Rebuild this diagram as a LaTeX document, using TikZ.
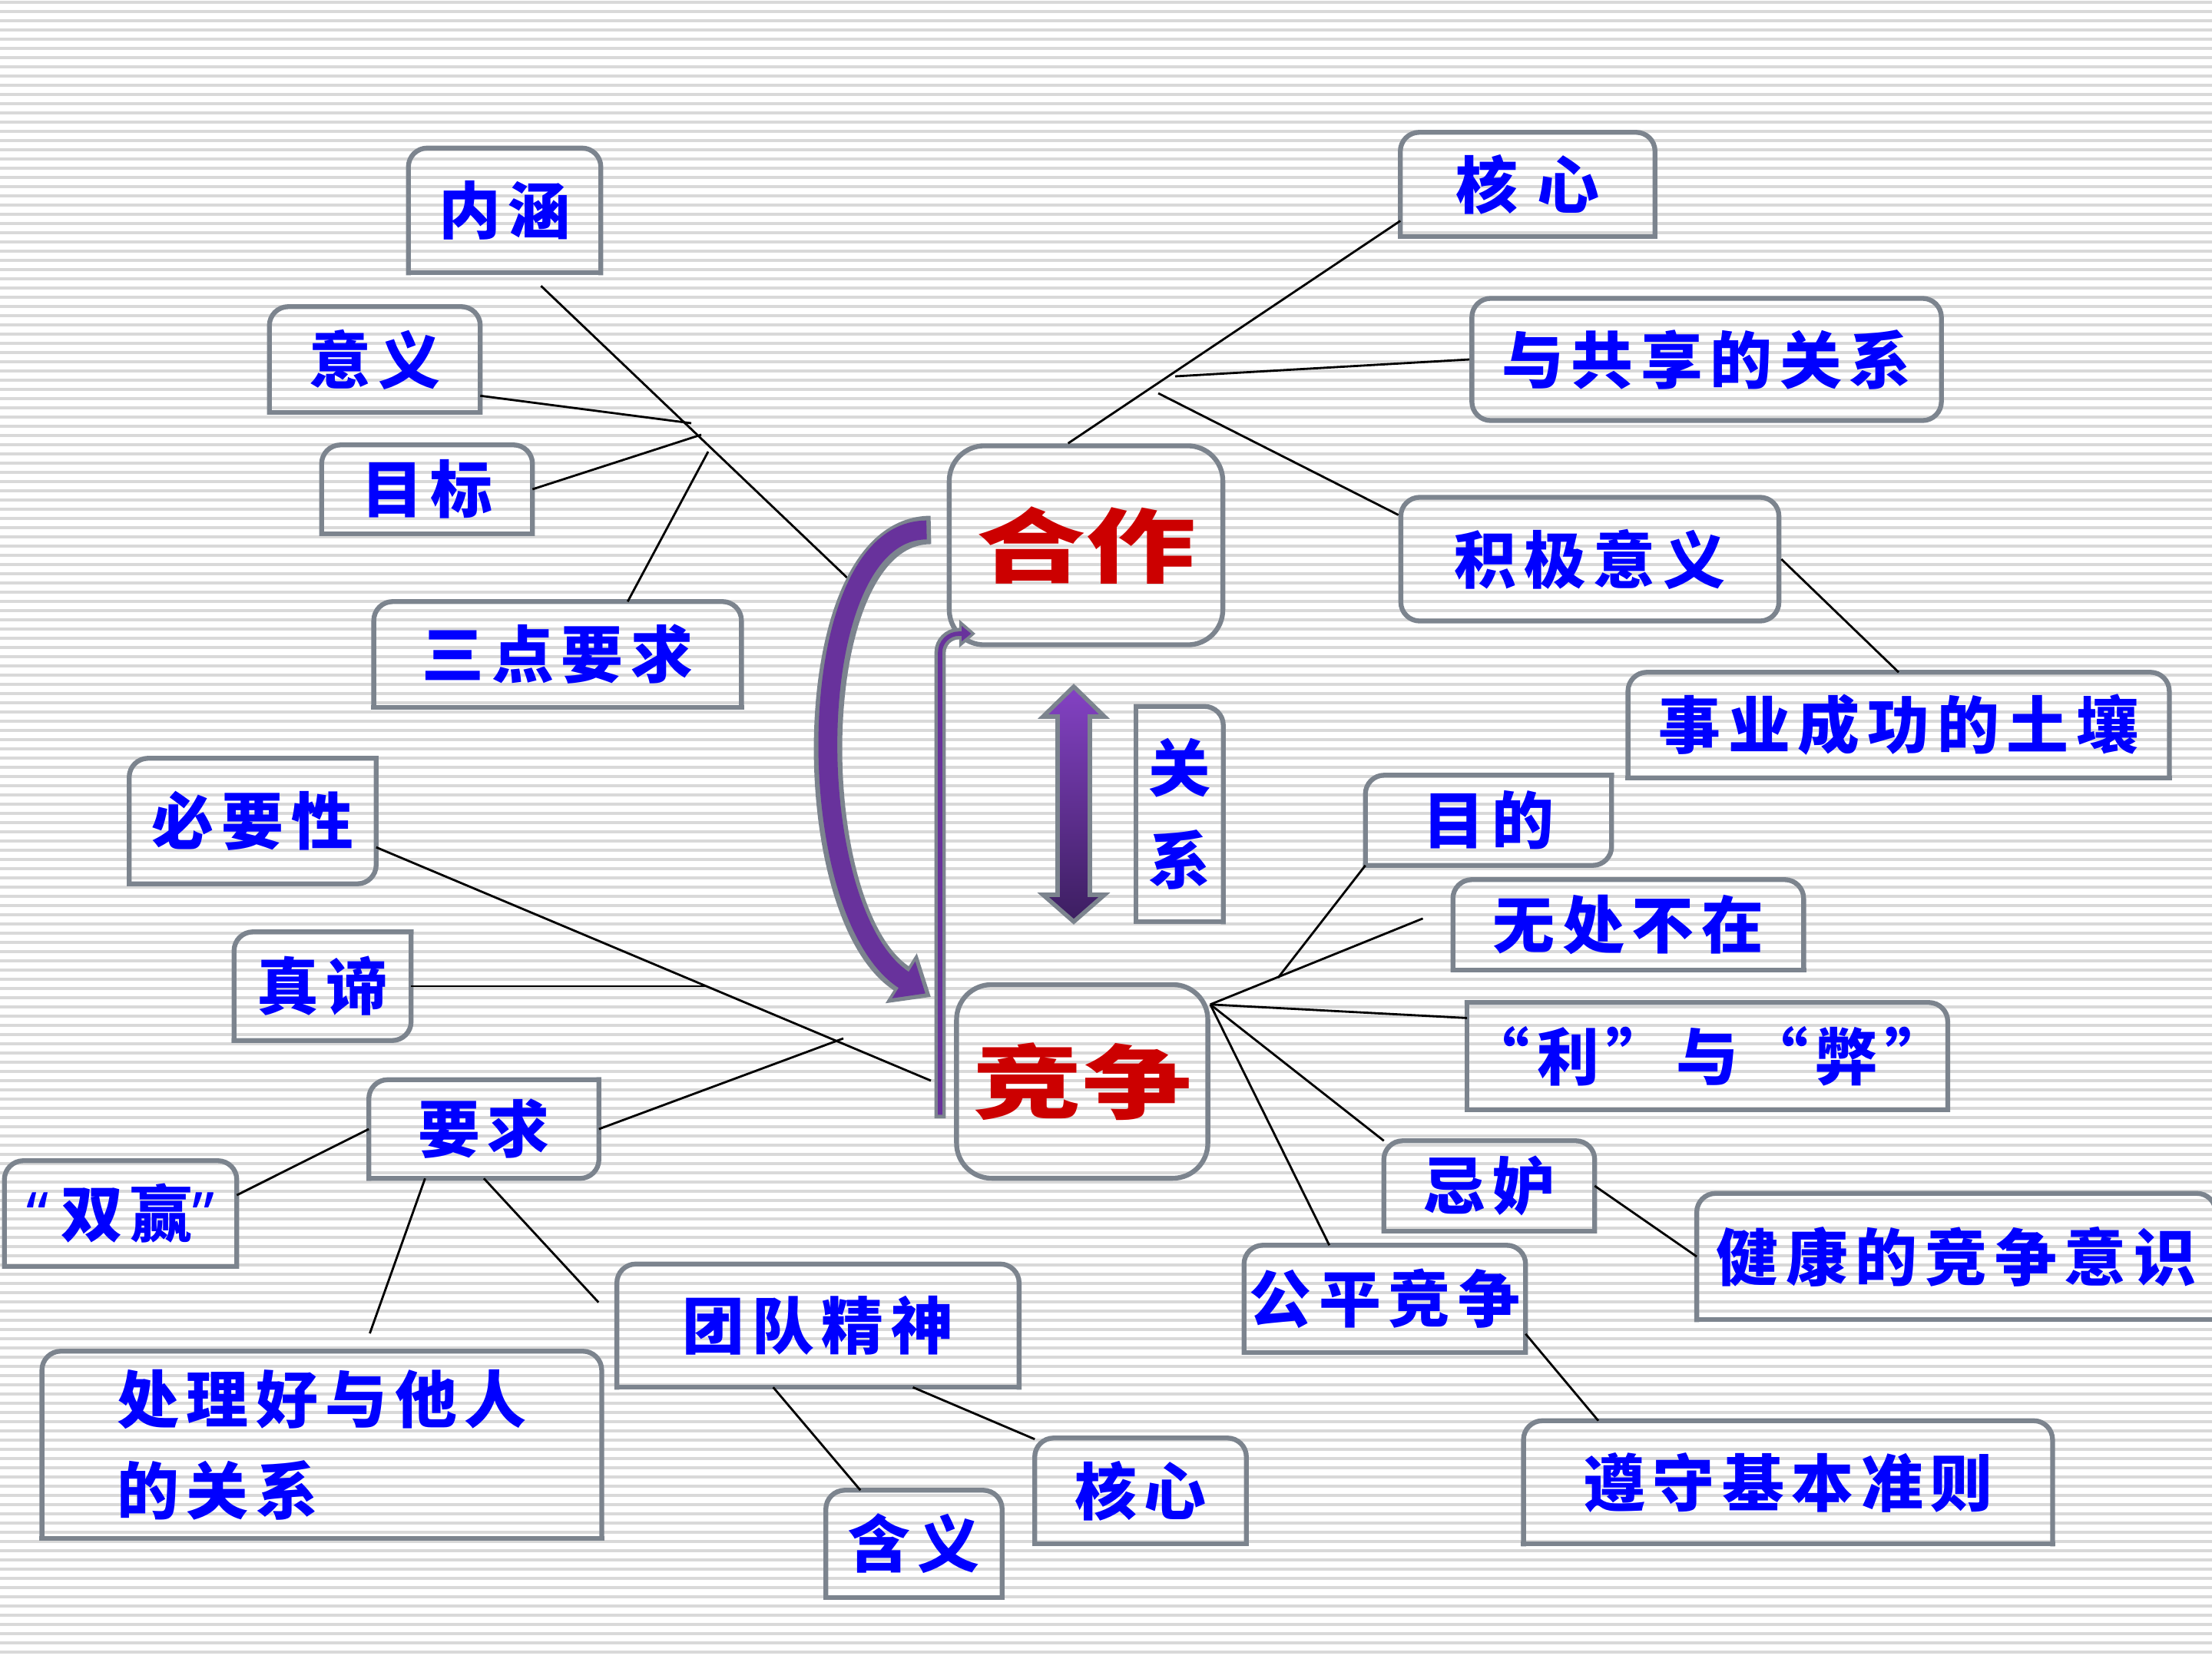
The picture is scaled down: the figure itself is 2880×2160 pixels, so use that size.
\documentclass[tikz,border=0pt]{standalone}
\usepackage{fontspec}
\newfontfamily\cjk[LetterSpace=12]{Noto Sans CJK SC}
\newfontfamily\cjkwide[FakeStretch=1.35]{Noto Sans CJK SC}
\newfontfamily\quotefont{Noto Sans}
\usetikzlibrary{arrows.meta}

\definecolor{rim}{RGB}{124,132,142}
\definecolor{stripe}{RGB}{217,217,217}
\definecolor{inkred}{RGB}{204,0,0}
\definecolor{plum}{RGB}{104,50,156}
\definecolor{plumlight}{RGB}{132,66,196}
\definecolor{plumdark}{RGB}{60,30,96}

\begin{document}
\begin{tikzpicture}[
    x=0.01cm, y=-0.01cm,
    stripe/.style={draw=stripe, line width=1.15pt},
    rimline/.style={draw=rim, line width=1.8pt, line cap=rect},
    link/.style={draw=black, line width=0.8pt},
    wh/.style 2 args={minimum width=#1cm, minimum height=#2cm},
    box/.style={inner sep=0pt, text=blue, font=\cjk\bfseries\fontsize{23}{34}\selectfont},
    topround/.style={box, append after command={\pgfextra{
        \draw[rimline, rounded corners=7pt] (\tikzlastnode.south west) |- (\tikzlastnode.north) -| (\tikzlastnode.south east);
        \draw[rimline] (\tikzlastnode.south west) -- (\tikzlastnode.south east);}}},
    oneround/.style={box, append after command={\pgfextra{
        \draw[rimline, rounded corners=7pt] (\tikzlastnode.north west) -| (\tikzlastnode.south east);
        \draw[rimline] (\tikzlastnode.south east) -- (\tikzlastnode.south west) -- (\tikzlastnode.north west);}}},
    diaground/.style={box, append after command={\pgfextra{
        \draw[rimline, rounded corners=7pt] (\tikzlastnode.south west) |- (\tikzlastnode.north east);
        \draw[rimline, rounded corners=7pt] (\tikzlastnode.north east) |- (\tikzlastnode.south west);}}},
    allround/.style={box, draw=rim, line width=1.8pt, rounded corners=7pt},
    core/.style={draw=rim, line width=1.8pt, rounded corners=13pt, inner sep=0pt, text=inkred,
        font=\cjkwide\bfseries\fontsize{30}{36}\selectfont},
    bigrim/.style={draw=rim, line width=10.5pt, -{Triangle[width=21pt, length=13pt]}},
    bigplum/.style={draw=plum, line width=7pt, shorten <=1.6pt, shorten >=2.4pt, -{Triangle[width=15.5pt, length=9.5pt]}},
    thinrim/.style={draw=rim, line width=4.2pt, rounded corners=7pt, -{Triangle[width=10pt, length=6pt]}},
    thinplum/.style={draw=plum, line width=1.6pt, rounded corners=7pt, shorten <=1.3pt, shorten >=1.6pt, -{Triangle[width=5.5pt, length=3.5pt]}}
  ]

  % background
  \fill[white] (0,0) rectangle (2880,2160);
  \useasboundingbox (0,0) rectangle (2880,2160);
  \foreach \k in {0,...,179}
    \draw[stripe] (0,3+12*\k) -- (2880,3+12*\k);

  % centre
  \node[core, wh={3.56}{2.59}] (hezuo) at (1414,710) {合作};
  \node[core, wh={3.27}{2.52}] (jingzheng) at (1409,1408) {竞争};
  \node[oneround, wh={1.12}{2.79}, align=center] (guanxi) at (1536,1060) {关\\系};

  % left
  \node[topround, wh={2.49}{1.61}] (neihan) at (657,274) {内涵};
  \node[topround, wh={2.73}{1.36}] (yiyi) at (488,468) {意义};
  \node[topround, wh={2.73}{1.14}] (mubiao) at (556,637) {目标};
  \node[topround, wh={4.77}{1.36}] (sandian) at (726,852) {三点要求};
  \node[diaground, wh={3.20}{1.62}] (biyao) at (329,1069) {必要性};
  \node[diaground, wh={2.29}{1.40}] (zhendi) at (420,1284) {真谛};
  \node[diaground, wh={2.98}{1.27}] (yaoqiu) at (630,1470) {要求};
  \node[topround, wh={3.01}{1.36}] (shuangying) at (157,1580) {{\quotefont“}\hspace{.2em}双赢{\quotefont”}};
  \node[topround, wh={7.27}{2.42}, align=left] (chuli) at (419,1881) {处理好与他人\\的关系};
  \node[topround, wh={5.22}{1.59}] (tuandui) at (1065,1726) {团队精神};
  \node[topround, wh={2.28}{1.38}] (hanyi) at (1190,2010) {含义};
  \node[topround, wh={2.74}{1.36}] (hexinB) at (1485,1941) {核心};

  % right
  \node[topround, wh={3.30}{1.34}] (hexinT) at (1989,240) {核\hspace{.3em}心};
  \node[allround, wh={6.11}{1.59}] (gongxiang) at (2222,468) {与共享的关系};
  \node[allround, wh={4.92}{1.61}] (jiji) at (2070,728) {积极意义};
  \node[topround, wh={7.03}{1.36}] (shiye) at (2472,944) {事业成功的土壤};
  \node[diaground, wh={3.19}{1.16}] (mudi) at (1938,1068) {目的};
  \node[topround, wh={4.55}{1.16}] (wuchu) at (2120,1204) {无处不在};
  \node[oneround, wh={6.13}{1.38}] (libi) at (2223,1375) {“利”与“弊”};
  \node[topround, wh={2.73}{1.16}] (jidu) at (1939,1544) {忌妒};
  \node[topround, wh={6.74}{1.63}] (jiankang) at (2547,1636) {健康的竞争意识};
  \node[topround, wh={3.65}{1.38}] (gongping) at (1803,1691) {公平竞争};
  \node[topround, wh={6.87}{1.59}] (zunshou) at (2328,1930) {遵守基本准则};

  % free ends
  \coordinate (nhEnd) at (1108,757);
  \coordinate (yyEnd) at (900,551);
  \coordinate (mbEnd) at (913,566);
  \coordinate (sdEnd) at (922,588);
  \coordinate (byEnd) at (1212,1407);
  \coordinate (zdEnd) at (918,1284);
  \coordinate (yqEnd) at (1098,1352);
  \coordinate (gxStart) at (1530,490);
  \coordinate (jjStart) at (1508,512);
  \coordinate (hub) at (jingzheng.31);
  \coordinate (mdEnd) at (1664,1273);

  \draw[link, shorten <=7pt] (neihan.-70) -- (nhEnd);
  \draw[link] (yiyi.-19) -- (yyEnd);
  \draw[link] (mubiao.east) -- (mbEnd);
  \draw[link] (sandian.37) -- (sdEnd);
  \draw[link] (biyao.-12) -- (byEnd);
  \draw[link] (zhendi.east) -- (zdEnd);
  \draw[link] (yaoqiu.east) -- (yqEnd);
  \draw[link] (yaoqiu.west) -- (shuangying.9);
  \draw[link, shorten >=7pt] (yaoqiu.-140) -- (chuli.66);
  \draw[link, shorten >=10pt] (yaoqiu.south) -- (tuandui.179);
  \draw[link] (tuandui.-126) -- (hanyi.135);
  \draw[link] (tuandui.-33) -- (hexinB.154);

  \draw[link] (hezuo.100) -- (hexinT.-164);
  \draw[link] (gxStart) -- (gongxiang.west);
  \draw[link] (jjStart) -- (jiji.167);
  \draw[link] (jiji.east) -- (shiye.north);

  \draw[link, shorten >=12pt] (hub) -- (wuchu.174);
  \draw[link] (mudi.south west) -- (mdEnd);
  \draw[link] (hub) -- (libi.171);
  \draw[link] (hub) -- (jidu.north west);
  \draw[link] (hub) -- (gongping.136);
  \draw[link] (jidu.east) -- (jiankang.west);
  \draw[link] (gongping.-14) -- (zunshou.162);

  % arrows between hezuo and jingzheng
  \coordinate (arcS) at (1212,690);
  \coordinate (arcE) at (1212,1298);
  \draw[bigrim] (arcS) .. controls (1040,690) and (1040,1190) .. (arcE);
  \draw[bigplum] (arcS) .. controls (1040,690) and (1040,1190) .. (arcE);

  \coordinate (barS) at (1224,1456);
  \coordinate (barE) at (1270,825);
  \draw[thinrim] (barS) |- (barE);
  \draw[thinplum] (barS) |- (barE);

  \path[draw=rim, line width=1.6pt, top color=plumlight, bottom color=plumdark]
    (1398,894) -- (1438,933) -- (1419,933) -- (1419,1165) -- (1438,1165) -- (1398,1200)
    -- (1358,1165) -- (1377,1165) -- (1377,933) -- (1358,933) -- cycle;

\end{tikzpicture}
\end{document}
